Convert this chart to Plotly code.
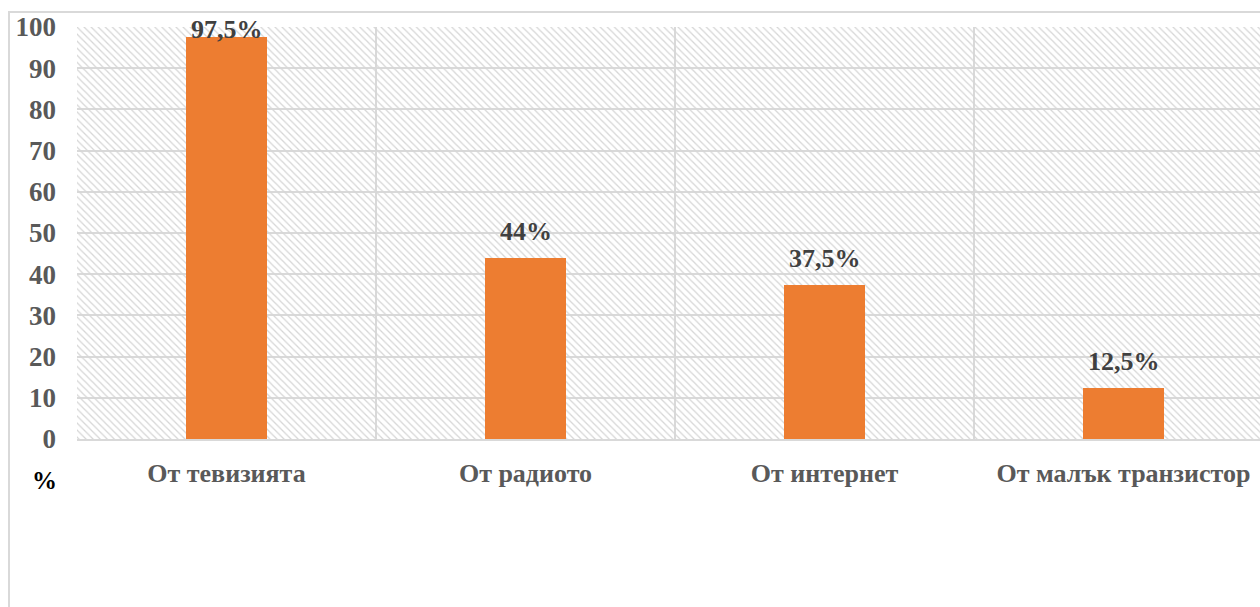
import plotly.graph_objects as go

categories = ["От тевизията", "От радиото", "От интернет", "От малък транзистор"]
values = [97.5, 44, 37.5, 12.5]
y_ticks = [0, 10, 20, 30, 40, 50, 60, 70, 80, 90, 100]

labels = [f"{v:g}".replace(".", ",") + "%" for v in values]

W, H = 1260, 607
ML, MT, MB, MR = 77, 27, 168, 0
plot_w = W - ML - MR
plot_h = H - MT - MB
cat_px = 299
x_span = plot_w / cat_px
y_max = max(y_ticks)

font_family = "Liberation Serif, Times New Roman, serif"

fig = go.Figure()

# hatched plot background
fig.add_trace(go.Bar(
    x=categories, y=[y_max] * len(categories), width=1,
    marker=dict(color="rgba(0,0,0,0)", line=dict(width=0),
                pattern=dict(shape="\\", fgcolor="#d6d6d6", size=5, solidity=0.25,
                             fillmode="replace")),
    hoverinfo="skip", showlegend=False,
))

fig.add_trace(go.Bar(
    x=categories, y=values, width=0.27,
    marker=dict(color="#ED7D31", line=dict(width=0)),
    showlegend=False,
))

# data labels: ~26px above bar top, kept inside the chart's top edge
for cat, v, lab in zip(categories, values, labels):
    top_px = MT + plot_h * (1 - v / y_max)
    center_px = max(top_px - 26, 30)
    fig.add_annotation(x=cat, y=v, text=lab, showarrow=False, yanchor="middle",
                       yshift=top_px - center_px,
                       font=dict(family=font_family, size=26, color="#404040", weight="bold"))

# outer chart border
def px_to_paper_x(px):
    return (px - ML) / plot_w

def px_to_paper_y(py):
    return (H - MB - py) / plot_h

fig.add_shape(type="rect", xref="paper", yref="paper",
              x0=px_to_paper_x(9), x1=px_to_paper_x(1275),
              y0=px_to_paper_y(620), y1=px_to_paper_y(12),
              line=dict(color="#d9d9d9", width=2), fillcolor="rgba(0,0,0,0)", layer="below")

fig.add_annotation(text="%", xref="paper", yref="paper",
                   x=px_to_paper_x(44), y=px_to_paper_y(480),
                   xanchor="center", yanchor="middle", showarrow=False,
                   font=dict(family=font_family, size=25, color="#000000", weight="bold"))

fig.update_layout(
    width=W, height=H,
    margin=dict(l=ML, r=MR, t=MT, b=MB, pad=0),
    paper_bgcolor="white", plot_bgcolor="white",
    barmode="overlay", bargap=0,
    xaxis=dict(range=[-0.5, -0.5 + x_span], tickson="boundaries", showgrid=True,
               gridcolor="#d9d9d9", gridwidth=1.5, ticks="", showline=True,
               linecolor="#d9d9d9", linewidth=2,
               tickfont=dict(family=font_family, size=26, color="#595959", weight="bold"),
               ticklabelstandoff=10, fixedrange=True),
    yaxis=dict(range=[0, y_max], tickvals=y_ticks, showgrid=True, gridcolor="#d9d9d9",
               gridwidth=1.5, zeroline=False, showline=False, ticks="",
               tickfont=dict(family=font_family, size=27, color="#595959", weight="bold"),
               ticklabelstandoff=20, fixedrange=True),
)

fig.write_html("out.html")
